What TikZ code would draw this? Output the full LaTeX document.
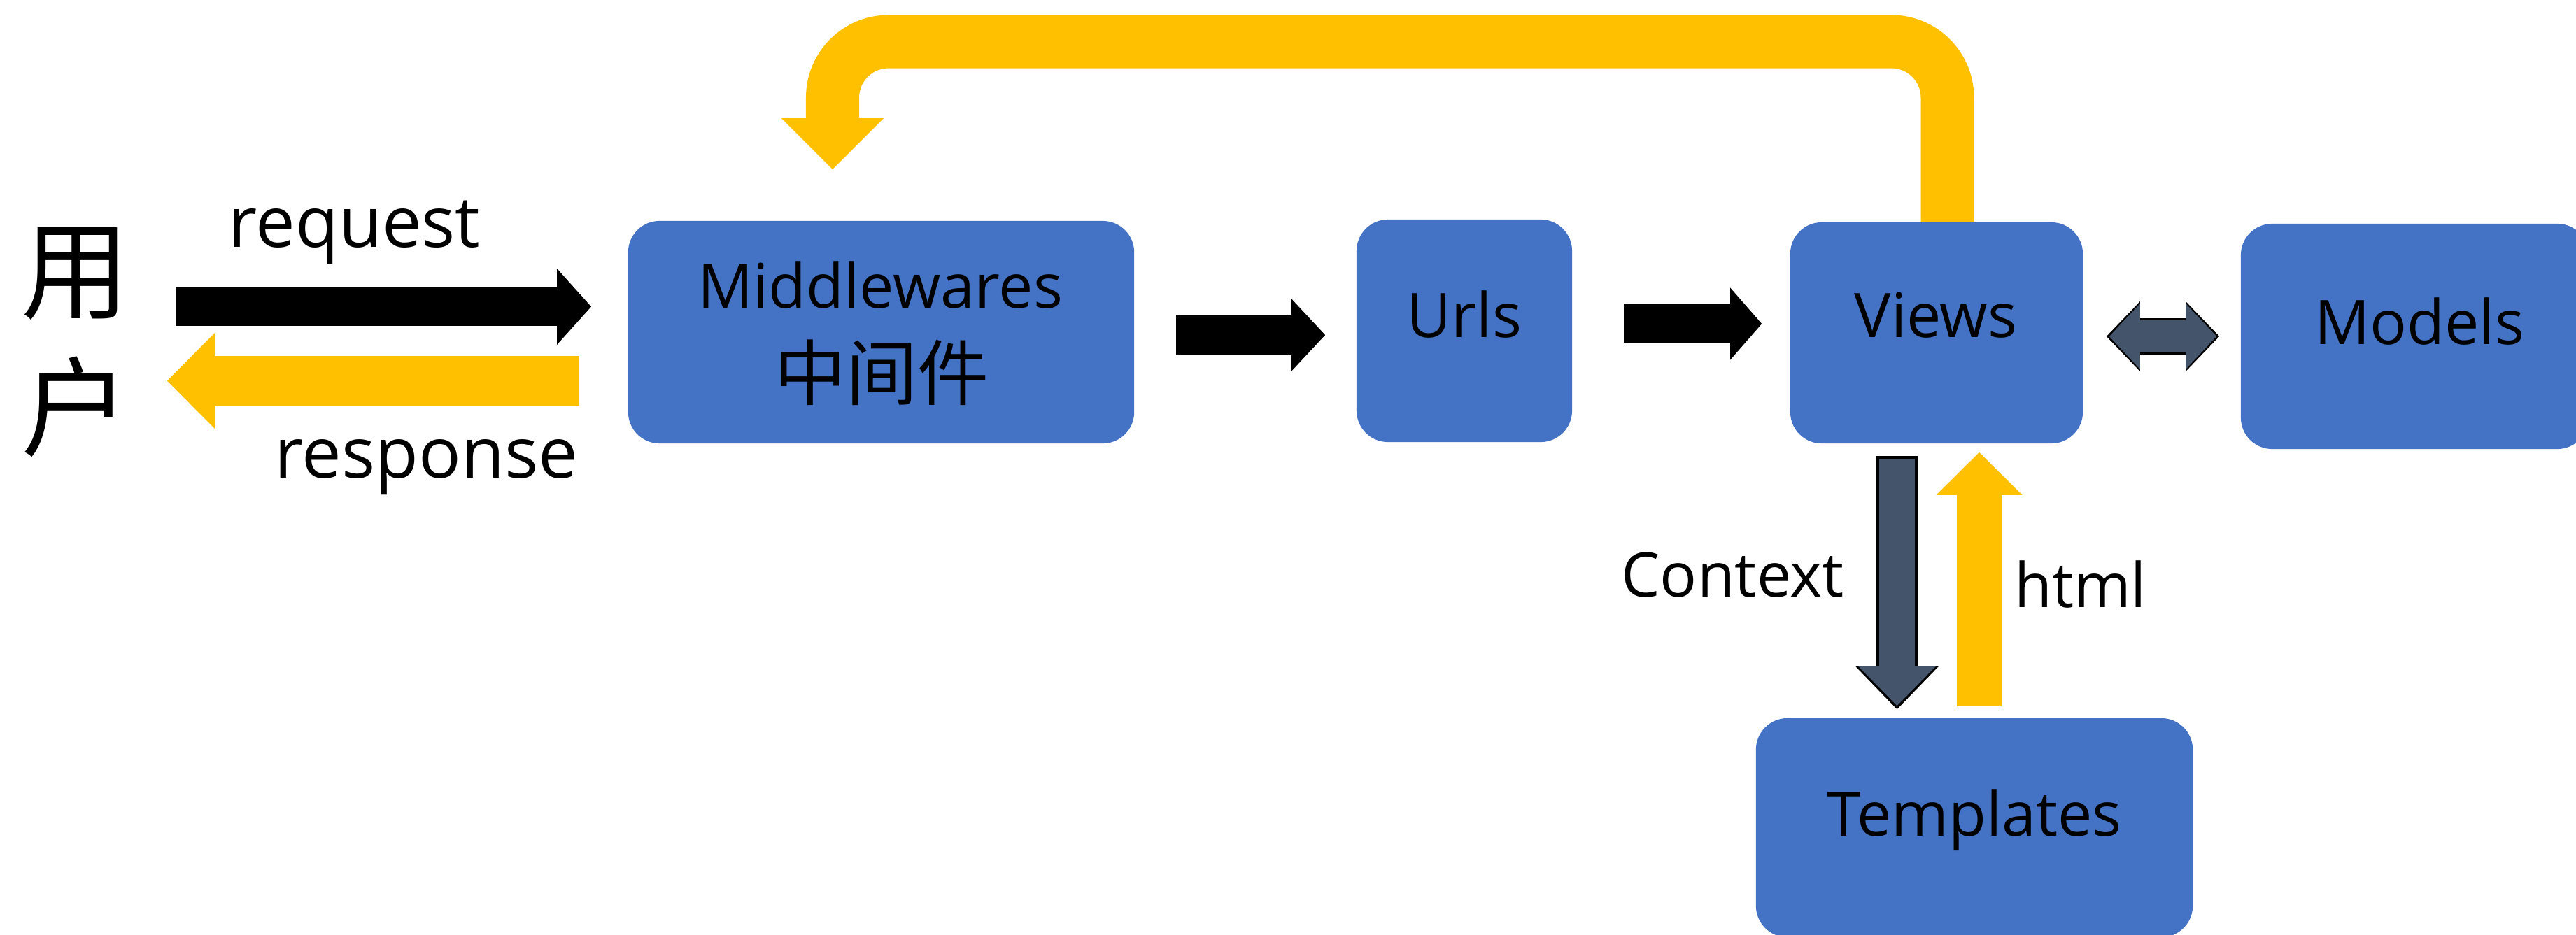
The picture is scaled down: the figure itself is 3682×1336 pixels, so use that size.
\documentclass[tikz,border=0pt]{standalone}
\usepackage{fontspec}
\setmainfont{Open Sans}
\newfontfamily\cjk{Noto Sans CJK SC}
\usetikzlibrary{arrows.meta,calc}
\definecolor{boxblue}{HTML}{4472C4}
\definecolor{gold}{HTML}{FFC000}
\definecolor{slate}{HTML}{44546A}

\begin{document}
\begin{tikzpicture}[x=0.01cm,y=-0.01cm,
  box/.style={fill=boxblue, draw=none, rounded corners=0.45cm, inner sep=0pt},
  lbl/.style={inner sep=0pt, anchor=base, text=black, font=\fontsize{25}{30}\selectfont},
  biglbl/.style={lbl, font=\fontsize{28.7}{34}\selectfont},
  hanzi/.style={lbl, font=\cjk\fontsize{44}{50}\selectfont}]

\useasboundingbox (0,0) rectangle (3682,1336);

% ---- components ----
\node[box, minimum width=7.23cm, minimum height=3.18cm] (mw)     at (1259.5,475) {};
\node[box, minimum width=3.08cm, minimum height=3.18cm] (urls)   at (2093,473) {};
\node[box, minimum width=4.18cm, minimum height=3.16cm] (views)  at (2768,476) {};
\node[box, minimum width=4.97cm, minimum height=3.22cm] (models) at (3451.5,481) {};
\node[box, minimum width=6.24cm, minimum height=3.13cm] (tpl)    at (2822,1183.5) {};

% ---- request / response ----
\coordinate (rqA) at (252,438.5);
\draw[black, line width=0.55cm, -{Triangle[width=1.09cm,length=0.49cm,line width=0pt]},
      shorten >=0.52cm] (rqA) -- (rqA -| mw.west);
\coordinate (rsB) at (239,544.5);
\draw[gold, line width=0.71cm, -{Triangle[width=1.37cm,length=0.68cm,line width=0pt]},
      shorten <=0.69cm] (rsB -| mw.west) -- (rsB);

% ---- pipeline ----
\draw[black, line width=0.56cm, -{Triangle[width=1.05cm,length=0.49cm,line width=0pt]},
      shorten <=0.59cm, shorten >=0.44cm] ($(mw.east)+(0,4)$) -- ($(urls.west)+(0,6)$);
\draw[black, line width=0.56cm, -{Triangle[width=1.03cm,length=0.45cm,line width=0pt]},
      shorten <=0.73cm, shorten >=0.40cm] ($(urls.east)+(0,-10)$) -- ($(views.west)+(0,-13)$);

% ---- views <-> models ----
\draw[black, line width=0.52cm,
      {Triangle[width=1.00cm,length=0.48cm,line width=0pt]}-{Triangle[width=1.00cm,length=0.48cm,line width=0pt]},
      shorten <=0.33cm, shorten >=0.30cm] ($(views.east)+(0,5)$) -- (models.west);
\draw[slate, line width=0.46cm,
      {Triangle[width=0.94cm,length=0.44cm,line width=0pt]}-{Triangle[width=0.94cm,length=0.44cm,line width=0pt]},
      shorten <=0.37cm, shorten >=0.34cm] ($(views.east)+(0,5)$) -- (models.west);

% ---- context / html ----
\draw[black, line width=0.59cm, -{Triangle[width=1.20cm,length=0.62cm,line width=0pt]},
      shorten <=0.17cm, shorten >=0.12cm] ($(views.south)+(-56.5,0)$) -- ($(tpl.north)+(-110.5,0)$);
\draw[slate, line width=0.51cm, -{Triangle[width=1.12cm,length=0.57cm,line width=0pt]},
      shorten <=0.21cm, shorten >=0.17cm] ($(views.south)+(-56.5,0)$) -- ($(tpl.north)+(-110.5,0)$);
\draw[gold, line width=0.64cm, -{Triangle[width=1.23cm,length=0.61cm,line width=0pt]},
      shorten <=0.16cm, shorten >=0.12cm] ($(tpl.north)+(7,0)$) -- ($(views.south)+(61,0)$);

% ---- views back to middlewares ----
\coordinate (loopTop) at (0,59.5);
\coordinate (lpS) at ($(views.north)+(15.5,0)$);
\coordinate (lpE) at ($(mw.north)+(-69.5,0)$);
\draw[gold, line width=0.76cm, rounded corners=0.8cm,
      -{Triangle[width=1.46cm,length=0.73cm,line width=0pt]}, shorten >=0.73cm]
      (lpS) -- (lpS |- loopTop) -- (lpE |- loopTop) -- (lpE);

% ---- labels ----
\node[hanzi] (u1) at (108,444) {用};
\node[hanzi] (u2) at (108,640) {户};
\node[biglbl] (reqT) at (506.5,353) {request};
\node[biglbl] (resT) at (609.5,683) {response};
\node[lbl] (mwA) at (1258,440) {Middlewares};
\node[lbl, font=\cjk\fontsize{29}{34}\selectfont] (mwB) at (1260,571) {中间件};
\node[lbl] (urlsT) at (2093,482) {Urls};
\node[lbl] (viewsT) at (2767,482) {Views};
\node[lbl] (modelsT) at (3458,492) {Models};
\node[lbl] (tplT) at (2822,1195) {Templates};
\node[lbl] (ctxT) at (2476.5,853) {Context};
\node[lbl] (htmlT) at (2973.5,868) {html};
\end{tikzpicture}
\end{document}
